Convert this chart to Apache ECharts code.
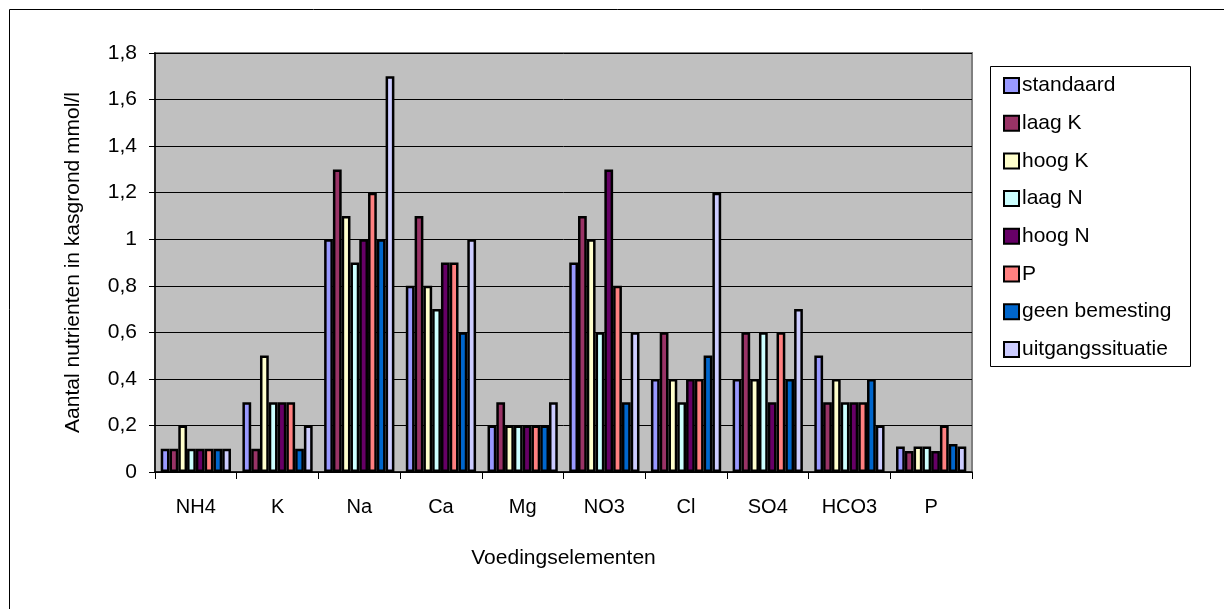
<!DOCTYPE html>
<html>
<head>
<meta charset="utf-8">
<script src="https://cdn.jsdelivr.net/npm/echarts@6/dist/echarts.min.js"></script>
<style>
  html, body { margin: 0; padding: 0; background: #fff; }
  #chart { width: 1224px; height: 609px; }
</style>
</head>
<body>
<div id="chart"></div>
<script>
// Nutrient elements on the category axis
const elements = ['NH4', 'K', 'Na', 'Ca', 'Mg', 'NO3', 'Cl', 'SO4', 'HCO3', 'P'];

// Treatments (one series each), values in mmol/l
const standaard        = [0.1, 0.3, 1.0, 0.8, 0.2, 0.9, 0.4, 0.4, 0.5, 0.11];
const laagK            = [0.1, 0.1, 1.3, 1.1, 0.3, 1.1, 0.6, 0.6, 0.3, 0.09];
const hoogK            = [0.2, 0.5, 1.1, 0.8, 0.2, 1.0, 0.4, 0.4, 0.4, 0.11];
const laagN            = [0.1, 0.3, 0.9, 0.7, 0.2, 0.6, 0.3, 0.6, 0.3, 0.11];
const hoogN            = [0.1, 0.3, 1.0, 0.9, 0.2, 1.3, 0.4, 0.3, 0.3, 0.09];
const fosfaat          = [0.1, 0.3, 1.2, 0.9, 0.2, 0.8, 0.4, 0.6, 0.3, 0.2];
const geenBemesting    = [0.1, 0.1, 1.0, 0.6, 0.2, 0.3, 0.5, 0.4, 0.4, 0.12];
const uitgangssituatie = [0.1, 0.2, 1.7, 1.0, 0.3, 0.6, 1.2, 0.7, 0.2, 0.11];

const seriesNames = ['standaard', 'laag K', 'hoog K', 'laag N', 'hoog N', 'P', 'geen bemesting', 'uitgangssituatie'];
const seriesData = [standaard, laagK, hoogK, laagN, hoogN, fosfaat, geenBemesting, uitgangssituatie];
const seriesColors = ['#9999FF', '#993366', '#FFFFCC', '#CCFFFF', '#660066', '#FF8080', '#0066CC', '#CCCCFF'];

const FONT = 'Liberation Sans, Arial, sans-serif';

const chart = echarts.init(document.getElementById('chart'), null, { renderer: 'canvas' });

chart.setOption({
  animation: false,
  backgroundColor: '#ffffff',
  textStyle: { fontFamily: FONT, color: '#000' },
  graphic: [
    {
      type: 'rect',
      shape: { x: 9.5, y: 9.5, width: 1300, height: 700 },
      style: { fill: 'none', stroke: '#000', lineWidth: 1 },
      z: -10
    },
    {
      type: 'rect',
      shape: { x: 990.5, y: 66.5, width: 200, height: 300 },
      style: { fill: '#fff', stroke: '#000', lineWidth: 1 },
      z: 0
    }
  ],
  grid: {
    left: 155, top: 53, right: 252, bottom: 137,
    show: true,
    backgroundColor: '#C0C0C0',
    borderColor: '#808080',
    borderWidth: 2
  },
  legend: {
    orient: 'vertical',
    left: 998,
    top: 70,
    itemWidth: 15,
    itemHeight: 15,
    itemGap: 16.7,
    icon: 'rect',
    textStyle: { fontFamily: FONT, fontSize: 21, lineHeight: 20, color: '#000', padding: [0, 0, 0, -2] },
    data: seriesNames,
    z: 5
  },
  xAxis: {
    type: 'category',
    data: elements,
    name: 'Voedingselementen',
    nameLocation: 'middle',
    nameGap: 76,
    nameTextStyle: { fontFamily: FONT, fontSize: 21, color: '#000' },
    axisLine: { show: true, lineStyle: { color: '#000', width: 1.5 } },
    axisTick: { show: true, length: 7, lineStyle: { color: '#000' } },
    axisLabel: { fontFamily: FONT, fontSize: 20, color: '#000', margin: 25 },
    splitLine: { show: false }
  },
  yAxis: {
    type: 'value',
    min: 0,
    max: 1.8,
    interval: 0.2,
    name: 'Aantal nutrienten in kasgrond mmol/l',
    nameLocation: 'middle',
    nameGap: 71,
    nameRotate: 90,
    nameTextStyle: { fontFamily: FONT, fontSize: 21, color: '#000' },
    axisLine: { show: true, lineStyle: { color: '#000', width: 1.5 } },
    axisTick: { show: true, length: 6, lineStyle: { color: '#000' } },
    axisLabel: {
      fontFamily: FONT, fontSize: 21, color: '#000', margin: 18,
      formatter: v => String(Math.round(v * 10) / 10).replace('.', ',')
    },
    splitLine: { show: true, lineStyle: { color: '#000', width: 1 } }
  },
  series: seriesNames.map((name, i) => ({
    name,
    type: 'bar',
    data: seriesData[i],
    barGap: '0%',
    barCategoryGap: '14%',
    itemStyle: { color: seriesColors[i], borderColor: '#000', borderWidth: 2.5 }
  }))
});
</script>
</body>
</html>
